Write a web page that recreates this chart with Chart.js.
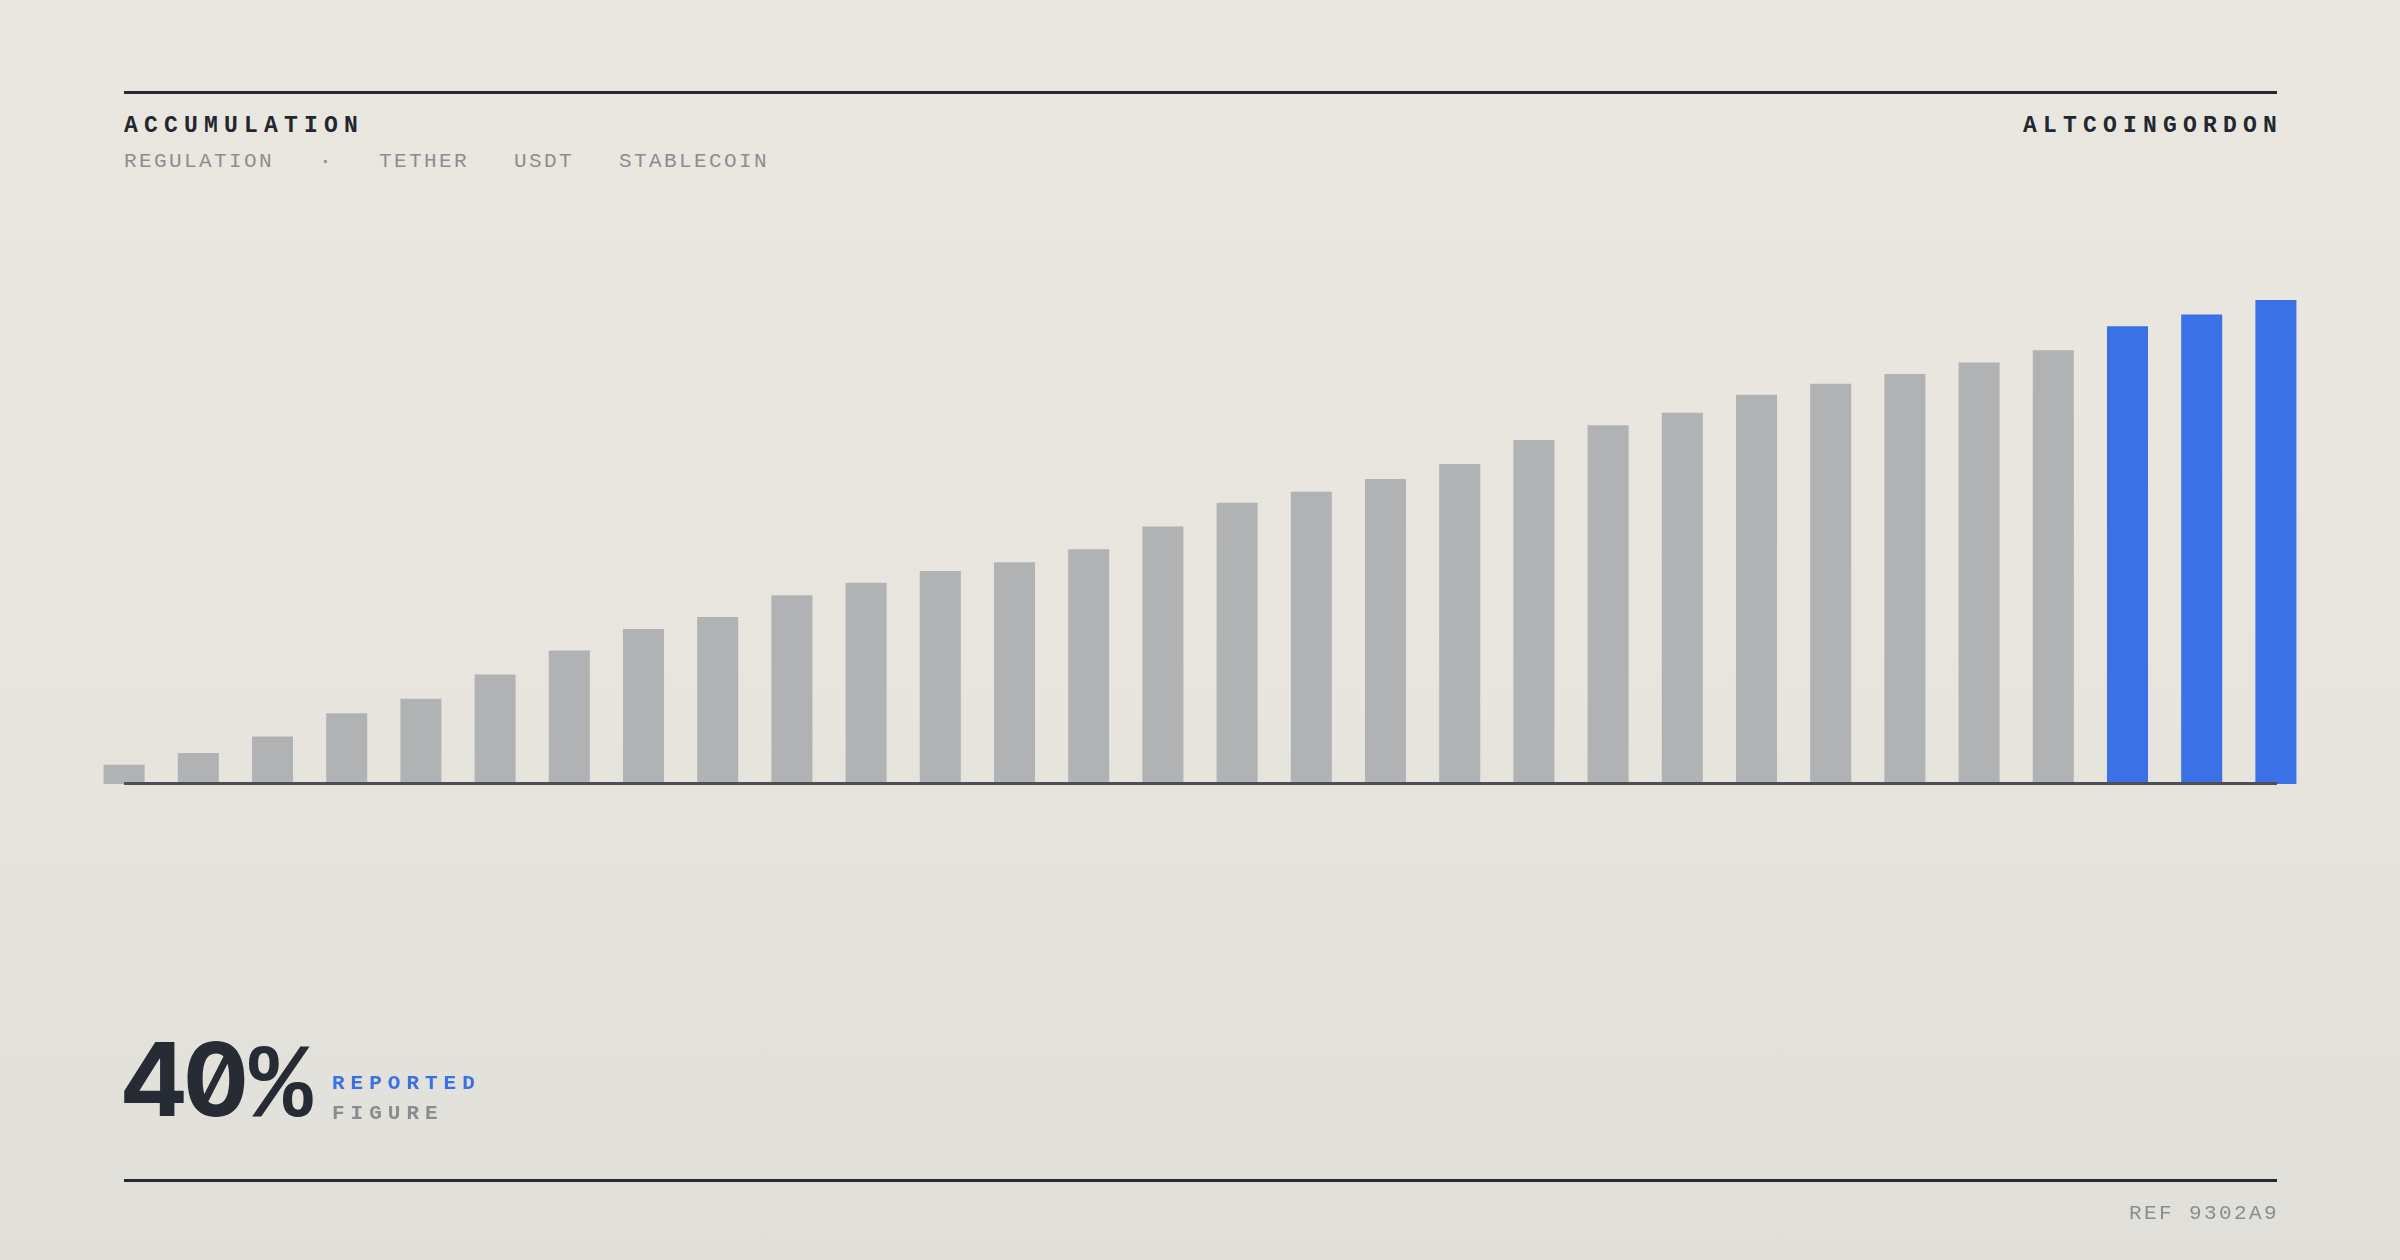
<!DOCTYPE html>
<html>
<head>
<meta charset="utf-8">
<script src="https://cdn.jsdelivr.net/npm/chart.js@4.4.1/dist/chart.umd.min.js"></script>
<style>
  html, body { margin:0; padding:0; }
  body {
    width:2400px; height:1260px; position:relative; overflow:hidden;
    background: linear-gradient(180deg, #eae7e0 0%, #e7e5de 50%, #e0dfd9 100%);
    font-family: "Liberation Mono", "DejaVu Sans Mono", monospace;
  }
  .abs { position:absolute; line-height:1; white-space:nowrap; }
  .rule { position:absolute; left:124px; width:2153px; background:#262a32; }
  #chartwrap { position:absolute; left:0; top:0; width:2400px; height:1260px; }
  .title { font-size:23px; font-weight:bold; letter-spacing:6.2px; color:#23272f; }
  .sub { font-size:21px; letter-spacing:2.4px; color:#8b8d93; display:flex; gap:45px; }
  .big { font-family: Inter, "DejaVu Sans", sans-serif; font-size:102px; font-weight:700; color:#272b34;
         letter-spacing:-4px; font-feature-settings: "zero" 1, "tnum" 1; }
  .pct { font-family: "Liberation Mono", monospace; font-size:106px; font-weight:bold; letter-spacing:0; line-height:1; margin-left:4px; }
  .lab { font-size:21px; font-weight:bold; letter-spacing:6px; }
</style>
</head>
<body>
<div class="rule" style="top:91px;height:3px;"></div>
<div class="abs title" style="left:124px;top:115px;">ACCUMULATION</div>
<div class="abs sub" style="left:124px;top:151px;">
  <span>REGULATION</span><span>·</span><span>TETHER</span><span>USDT</span><span>STABLECOIN</span>
</div>
<div class="abs title" style="right:117px;top:115px;">ALTCOINGORDON</div>

<div id="chartwrap"><canvas id="c" width="2400" height="1260"></canvas></div>
<div class="rule" style="top:782px;height:3px;background:#4b4f57;z-index:5;"></div>

<div class="abs big" style="left:121px;top:1028px;">40<span class="pct">%</span></div>
<div class="abs lab" style="left:332px;top:1073px;color:#3a70e5;">REPORTED</div>
<div class="abs lab" style="left:332px;top:1103px;color:#8a8c92;">FIGURE</div>

<div class="rule" style="top:1179px;height:3px;"></div>
<div class="abs" style="right:121px;top:1203px;font-size:21px;letter-spacing:2.4px;color:#8a8c92;">REF 9302A9</div>

<script>
const categories = ['P01','P02','P03','P04','P05','P06','P07','P08','P09','P10',
                    'P11','P12','P13','P14','P15','P16','P17','P18','P19','P20',
                    'P21','P22','P23','P24','P25','P26','P27','P28','P29','P30'];
const values = [4.0, 6.4, 9.8, 14.6, 17.6, 22.6, 27.6, 32.0, 34.5, 39.0,
                41.6, 44.0, 45.8, 48.5, 53.2, 58.1, 60.4, 63.0, 66.1, 71.1,
                74.1, 76.7, 80.4, 82.7, 84.7, 87.1, 89.6, 94.6, 97.0, 100.0];
const highlighted = [false,false,false,false,false,false,false,false,false,false,
                     false,false,false,false,false,false,false,false,false,false,
                     false,false,false,false,false,false,false,true,true,true];
const yMin = 0, yMax = 100;
const GREY = '#b1b2b4', BLUE = '#3a71e6';

new Chart(document.getElementById('c'), {
  type: 'bar',
  data: {
    labels: categories,
    datasets: [{
      data: values,
      backgroundColor: highlighted.map(h => h ? BLUE : GREY),
      borderWidth: 0,
      categoryPercentage: 1.0,
      barPercentage: 0.553
    }]
  },
  options: {
    responsive: false,
    devicePixelRatio: 1,
    animation: false,
    layout: { padding: { left: 87, right: 87, top: 300, bottom: 1260 - 784 } },
    plugins: { legend: { display: false }, tooltip: { enabled: false } },
    scales: {
      x: { display: false, offset: true },
      y: { display: false, min: yMin, max: yMax }
    }
  }
});
</script>
</body>
</html>
